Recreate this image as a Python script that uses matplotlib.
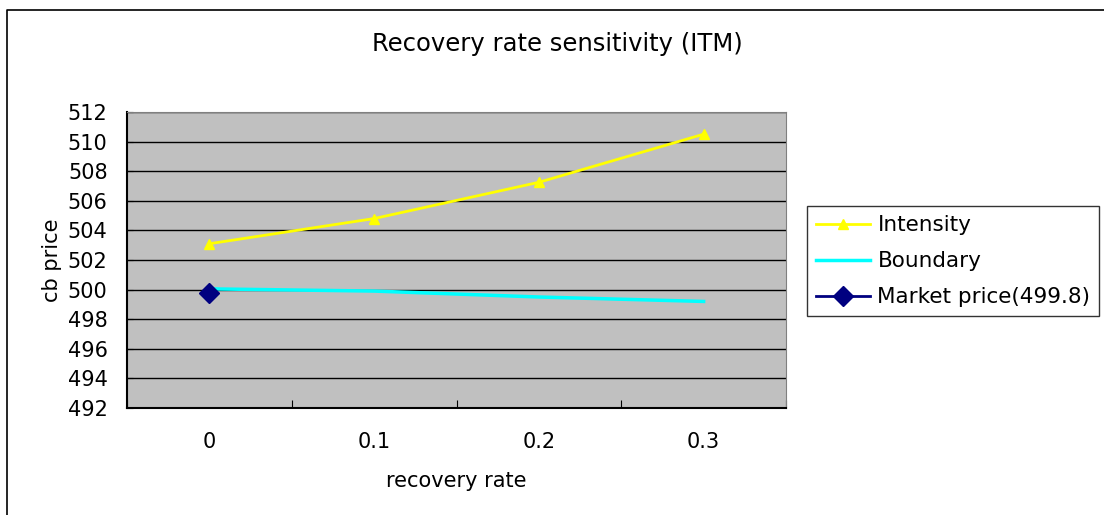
import matplotlib
matplotlib.use("Agg")
import matplotlib.pyplot as plt
from matplotlib.lines import Line2D

plt.rcParams['font.family'] = ['DejaVu Sans']

categories = ["0", "0.1", "0.2", "0.3"]
intensity = [503.1, 504.8, 507.25, 510.5]
boundary = [500.05, 499.9, 499.5, 499.2]
market_price = [499.8]
yticks = [492, 494, 496, 498, 500, 502, 504, 506, 508, 510, 512]

fig = plt.figure(figsize=(11.04, 5.15), dpi=100)
fig.add_artist(Line2D([7/1104, 7/1104, 1.0], [0.0, 1 - 10/515, 1 - 10/515],
                      transform=fig.transFigure, color='black', lw=1.2))

ax = fig.add_axes([127/1104, 1 - 408/515, (786 - 127)/1104, (408 - 112)/515])
ax.set_facecolor('#c0c0c0')

x = list(range(len(categories)))
ax.plot(x, intensity, color='#ffff00', lw=2, marker='^', ms=7, label='Intensity', zorder=3)
ax.plot(x, boundary, color='#00ffff', lw=2.5, label='Boundary', zorder=3)
ax.plot(x[:len(market_price)], market_price, color='#000080', lw=2, marker='D', ms=10,
        label='Market price(499.8)', zorder=4)

ax.set_xlim(-0.5, len(categories) - 0.5)
ax.set_ylim(yticks[0], yticks[-1])
ax.set_yticks(yticks)
ax.set_yticklabels([str(v) for v in yticks])
ax.yaxis.grid(True, color='black', lw=1)
ax.set_axisbelow(True)

ax.set_xticks([i + 0.5 for i in range(len(categories) - 1)] + [-0.5, len(categories) - 0.5])
ax.set_xticklabels([])
ax.set_xticks(x, minor=True)
ax.set_xticklabels(categories, minor=True)
ax.tick_params(axis='x', which='major', direction='in', length=6, color='black')
ax.tick_params(axis='x', which='minor', length=0, pad=17, labelsize=15)
ax.tick_params(axis='y', direction='in', length=4, labelsize=15, pad=14)

for s in ['top', 'right']:
    ax.spines[s].set_color('#808080')
for s in ['left', 'bottom']:
    ax.spines[s].set_color('black')
    ax.spines[s].set_linewidth(1.5)

ax.set_xlabel('recovery rate', fontsize=15, labelpad=14)
ax.set_ylabel('cb price', fontsize=15, labelpad=4)
fig.text(557/1104, 1 - 44/515, 'Recovery rate sensitivity (ITM)', ha='center', va='center', fontsize=17.5)

leg = fig.legend(loc='upper left', bbox_to_anchor=(807/1104, 1 - 206/515),
                 frameon=True, fancybox=False, edgecolor='black', fontsize=15.5,
                 handlelength=2.5, borderpad=0.42, labelspacing=0.75, handletextpad=0.35,
                 borderaxespad=0)
leg.get_frame().set_linewidth(1)

fig.savefig('out.png', dpi=100)
